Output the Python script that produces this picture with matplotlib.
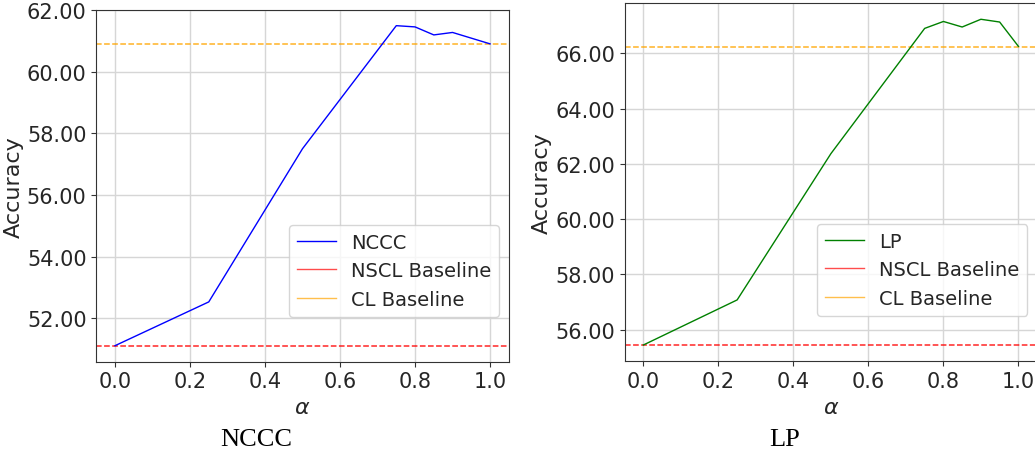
import matplotlib
matplotlib.use("Agg")
import matplotlib.pyplot as plt
from matplotlib.lines import Line2D
from matplotlib.ticker import FormatStrFormatter

# accuracy vs alpha for the two evaluation protocols
alpha_nccc = [0.0, 0.25, 0.5, 0.75, 0.8, 0.85, 0.9, 1.0]
acc_nccc = [51.11, 52.53, 57.50, 61.49, 61.45, 61.19, 61.27, 60.90]
nscl_nccc = 51.11
cl_nccc = 60.90

alpha_lp = [0.0, 0.25, 0.5, 0.75, 0.8, 0.85, 0.9, 0.95, 1.0]
acc_lp = [55.45, 57.08, 62.37, 66.90, 67.15, 66.95, 67.23, 67.13, 66.25]
nscl_lp = 55.45
cl_lp = 66.24

plt.rcParams['font.family'] = 'DejaVu Sans'
plt.rcParams['text.color'] = '#262626'
plt.rcParams['axes.labelcolor'] = '#262626'
plt.rcParams['xtick.color'] = '#262626'
plt.rcParams['ytick.color'] = '#262626'

fig = plt.figure(figsize=(10.35, 4.52), dpi=100)
ax1 = fig.add_axes([0.0930, 0.1976, 0.3986, 0.7788])
ax2 = fig.add_axes([0.6035, 0.1985, 0.3986, 0.7927])


def draw(ax, x, y, nscl, cl, color, name, yticks):
    ax.plot(x, y, color=color, lw=1.0, zorder=3)
    ax.axhline(nscl, color='red', ls='--', lw=1.1, alpha=0.85, zorder=2)
    ax.axhline(cl, color='orange', ls='--', lw=1.1, alpha=0.85, zorder=2)
    ax.grid(True, color='#d6d6d6', lw=1.0)
    ax.set_axisbelow(True)
    ax.set_xticks([0.0, 0.2, 0.4, 0.6, 0.8, 1.0])
    ax.set_yticks(yticks)
    ax.yaxis.set_major_formatter(FormatStrFormatter('%.2f'))
    ax.tick_params(labelsize=15, color='#333333')
    for s in ax.spines.values():
        s.set_color('#333333')
    ax.set_xlabel(r'$\alpha$', fontsize=16)
    ax.set_ylabel('Accuracy', fontsize=16, labelpad=2)
    handles = [Line2D([], [], color=color, lw=1.0),
               Line2D([], [], color='red', lw=1.0, alpha=0.7),
               Line2D([], [], color='orange', lw=1.0, alpha=0.7)]
    ax.legend(handles, [name, 'NSCL Baseline', 'CL Baseline'],
              loc='lower right', fontsize=14, framealpha=0.8,
              bbox_to_anchor=(1.0, 0.10))


draw(ax1, alpha_nccc, acc_nccc, nscl_nccc, cl_nccc, 'blue', 'NCCC',
     [52, 54, 56, 58, 60, 62])
draw(ax2, alpha_lp, acc_lp, nscl_lp, cl_lp, 'green', 'LP',
     [56, 58, 60, 62, 64, 66])

fig.text(0.248, 0.026, 'NCCC', family='Liberation Serif', fontsize=19,
         ha='center', va='center', color='black')
fig.text(0.758, 0.026, 'LP', family='Liberation Serif', fontsize=19,
         ha='center', va='center', color='black')

fig.savefig('out.png', dpi=100)
